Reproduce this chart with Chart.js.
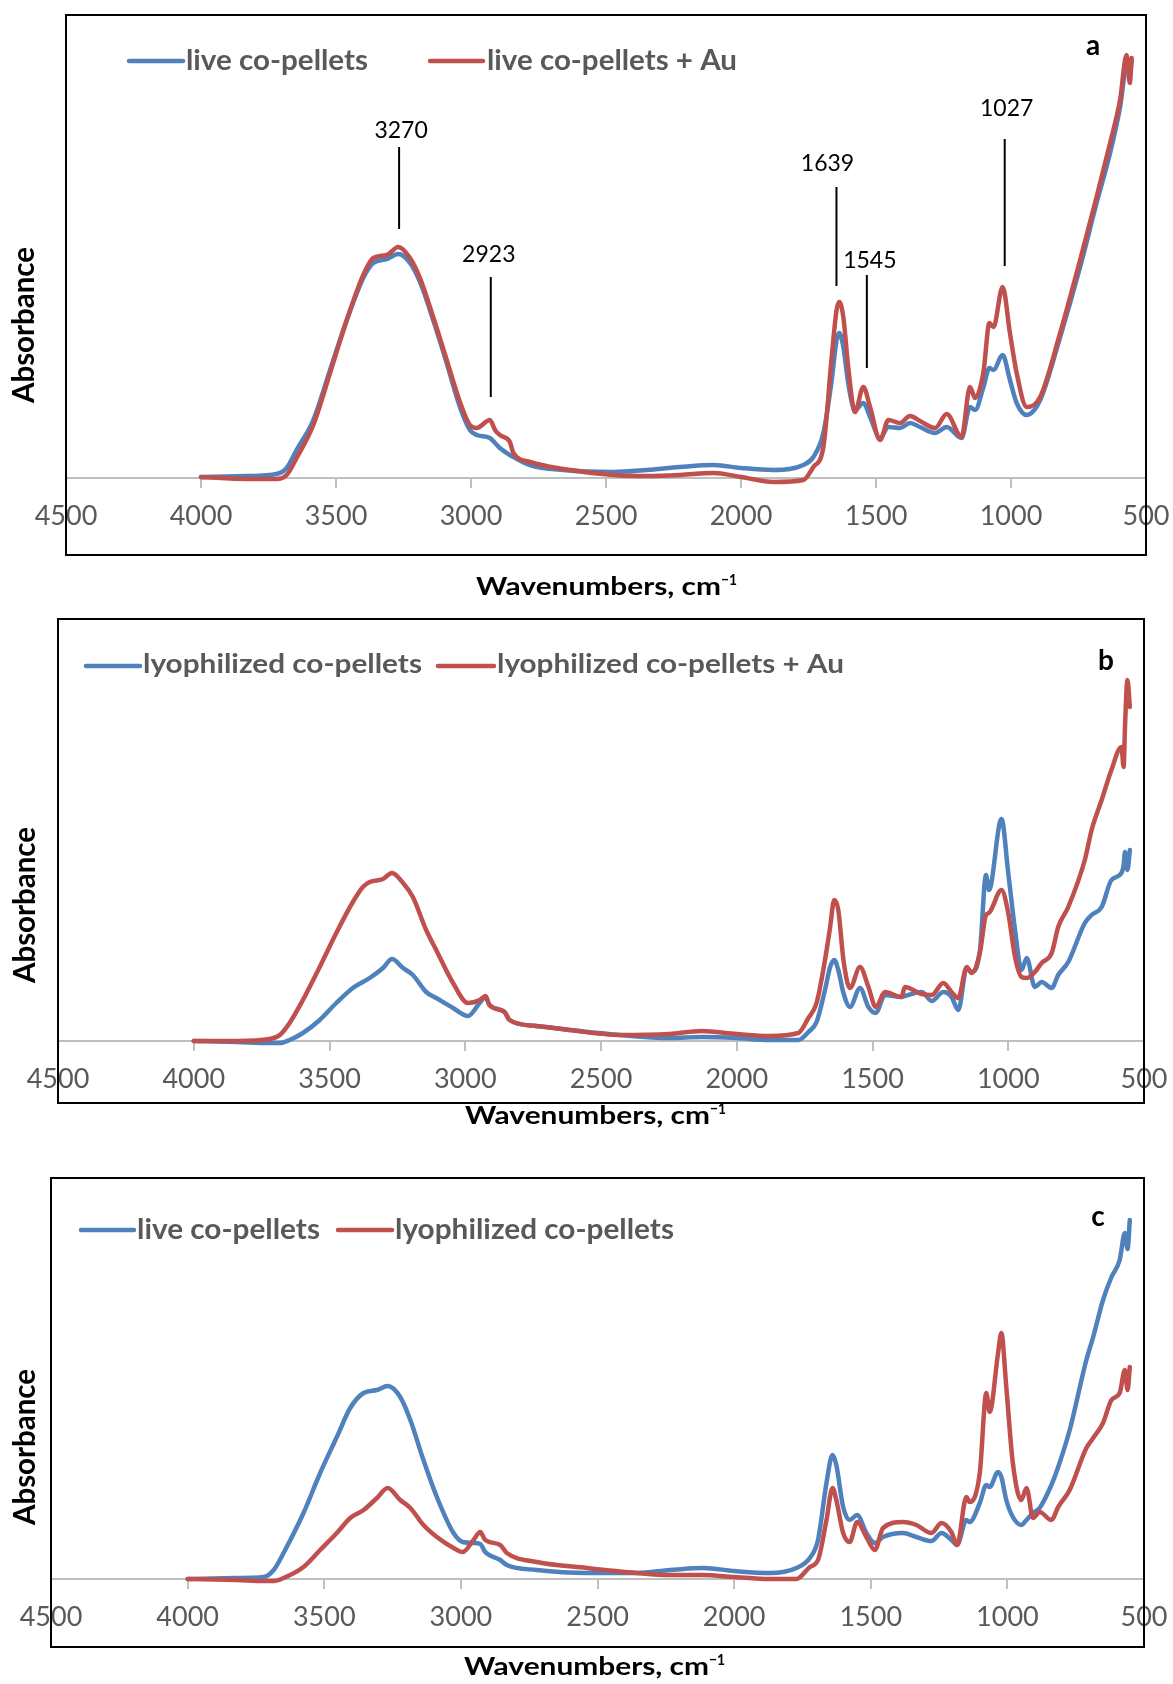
<!DOCTYPE html>
<html>
<head>
<meta charset="utf-8">
<script src="https://cdn.jsdelivr.net/npm/chart.js@4.4.0/dist/chart.umd.min.js"></script>
<style>
  body { margin: 0; background: #fff; }
  #wrap { position: relative; width: 1173px; height: 1684px; }
  canvas { position: absolute; left: 0; }
</style>
</head>
<body>
<div id="wrap">
  <canvas id="chartA" width="1173" height="605" style="top:0px"></canvas>
  <canvas id="chartB" width="1173" height="540" style="top:605px"></canvas>
  <canvas id="chartC" width="1173" height="539" style="top:1145px"></canvas>
</div>
<script>
// wavenumbers (cm-1) and absorbance (arbitrary units)

// panel a
const wnA = [4000, 3831, 3720, 3683, 3646, 3584, 3522, 3460, 3399, 3362, 3312, 3269, 3226, 3189, 3140, 3090, 3041, 3004, 2979, 2930,
  2911, 2893, 2856, 2843, 2782, 2658, 2473, 2349, 2226, 2102, 2000, 1880, 1769, 1732, 1695, 1664, 1646, 1636, 1621, 1603,
  1578, 1547, 1522, 1485, 1454, 1411, 1374, 1337, 1281, 1238, 1183, 1152, 1133, 1102, 1080, 1065, 1031, 1004, 979, 942,
  892, 818, 744, 683, 633, 596, 572, 560, 553];
const liveA = [1, 2, 4, 10, 28, 58, 108, 158, 200, 215, 219, 224, 215, 196, 158, 115, 71, 48, 43, 40,
  35, 30, 23, 21, 13, 8, 6, 8, 11, 13, 10, 8, 13, 21, 45, 98, 138, 145, 131, 95,
  68, 75, 61, 40, 51, 50, 55, 51, 45, 51, 40, 71, 68, 91, 110, 108, 123, 98, 75, 63,
  78, 141, 211, 275, 325, 371, 411, 405, 418];
const liveAuA = [1, -1, -1, 3, 20, 53, 105, 158, 203, 220, 223, 231, 220, 200, 161, 118, 76, 53, 50, 58,
  48, 43, 36, 25, 16, 9, 3, 2, 3, 5, 1, -4, -2, 11, 31, 121, 168, 176, 161, 111,
  66, 91, 71, 38, 58, 55, 62, 57, 50, 64, 41, 91, 80, 106, 155, 151, 191, 145, 105, 71,
  81, 145, 218, 281, 335, 378, 423, 395, 420];

// panel b
const wnB = [4000, 3843, 3720, 3683, 3647, 3598, 3536, 3475, 3414, 3377, 3352, 3303, 3270, 3229, 3193, 3144, 3107, 3045, 2990, 2947,
  2925, 2911, 2855, 2837, 2739, 2616, 2432, 2248, 2129, 2000, 1883, 1773, 1736, 1706, 1675, 1656, 1641, 1626, 1607, 1583,
  1546, 1515, 1488, 1454, 1393, 1381, 1319, 1282, 1239, 1209, 1184, 1153, 1135, 1104, 1082, 1071, 1025, 1000, 975, 951,
  932, 902, 877, 840, 816, 779, 718, 693, 656, 620, 583, 575, 570, 561, 552];
const lyoB = [0, -1, -2, -2, 1, 8, 21, 38, 53, 59, 63, 73, 82, 73, 66, 49, 43, 33, 25, 38,
  44, 36, 29, 21, 15, 11, 6, 3, 4, 3, 1, 1, 9, 19, 51, 74, 81, 71, 48, 34,
  53, 34, 28, 46, 44, 45, 49, 40, 49, 44, 31, 73, 69, 91, 166, 151, 222, 168, 111, 71,
  83, 54, 59, 53, 66, 79, 118, 126, 134, 161, 168, 176, 189, 171, 191];
const lyoAuB = [0, 0, 2, 6, 18, 41, 74, 108, 139, 154, 159, 162, 168, 158, 144, 111, 91, 58, 38, 41,
  45, 36, 29, 21, 15, 11, 6, 7, 10, 7, 5, 8, 23, 38, 81, 114, 141, 131, 81, 53,
  74, 54, 34, 49, 44, 54, 47, 46, 58, 49, 43, 74, 68, 89, 126, 128, 151, 128, 84, 64,
  63, 69, 78, 88, 114, 134, 181, 211, 241, 271, 294, 274, 314, 361, 334];

// panel c
const wnC = [4000, 3820, 3722, 3685, 3649, 3576, 3515, 3454, 3405, 3356, 3307, 3268, 3222, 3185, 3137, 3088, 3027, 2993, 2954, 2929,
  2911, 2856, 2832, 2722, 2539, 2356, 2234, 2113, 2000, 1870, 1772, 1723, 1693, 1662, 1640, 1626, 1601, 1577, 1550, 1516,
  1485, 1455, 1382, 1333, 1278, 1241, 1205, 1184, 1150, 1138, 1101, 1077, 1065, 1034, 1022, 1004, 980, 949, 930, 906,
  882, 839, 814, 772, 711, 686, 650, 619, 589, 570, 560, 552];
const liveC = [0, 1, 2, 9, 26, 66, 106, 142, 171, 186, 189, 193, 182, 159, 119, 82, 46, 37, 36, 35,
  27, 19, 14, 9, 6, 6, 9, 11, 8, 6, 11, 21, 39, 96, 124, 114, 72, 59, 64, 46,
  36, 42, 46, 42, 38, 46, 39, 34, 59, 57, 76, 94, 92, 107, 102, 79, 62, 54, 59, 66,
  71, 94, 112, 149, 219, 242, 279, 302, 319, 346, 330, 359];
const lyoC = [0, -1, -2, -2, 1, 12, 29, 46, 61, 69, 81, 91, 79, 71, 54, 42, 31, 27, 39, 47,
  39, 34, 26, 17, 11, 6, 4, 4, 2, 0, 0, 12, 19, 59, 91, 79, 46, 37, 57, 42,
  29, 51, 57, 54, 46, 56, 47, 34, 82, 77, 106, 186, 167, 226, 246, 192, 116, 79, 91, 61,
  67, 59, 72, 89, 131, 141, 156, 179, 186, 209, 189, 212];

// peak labels of panel a
const peaksA = [3270, 2923, 1639, 1545, 1027];

const xTicks = [4500, 4000, 3500, 3000, 2500, 2000, 1500, 1000, 500];

const BLUE = '#4f81bd', RED = '#c0504d';
const FONT = 'Lato, "Open Sans", sans-serif';

function fitText(ctx, txt, x, base, w) {
  const m = ctx.measureText(txt).width;
  ctx.save();
  ctx.translate(x, base);
  ctx.scale(w / m, 1);
  ctx.textAlign = 'left';
  ctx.textBaseline = 'alphabetic';
  ctx.fillText(txt, 0, 0);
  ctx.restore();
}

const decor = {
  id: 'decor',
  afterDraw(chart, args, o) {
    const ctx = chart.ctx, area = chart.chartArea;
    const xs = chart.scales.x, ys = chart.scales.y;
    ctx.save();
    // outer frame
    ctx.strokeStyle = '#000';
    ctx.lineWidth = 2;
    ctx.strokeRect(area.left, o.frame[0], area.right - area.left, o.frame[1] - o.frame[0]);

    // legend
    const lg = o.legend;
    ctx.lineCap = 'round';
    ctx.lineWidth = 4.5;
    ctx.font = 'bold ' + lg.size + 'px ' + FONT;
    ctx.fillStyle = '#595959';
    lg.items.forEach((it, i) => {
      ctx.strokeStyle = [BLUE, RED][i];
      ctx.beginPath();
      ctx.moveTo(it[0], lg.lineY);
      ctx.lineTo(it[1], lg.lineY);
      ctx.stroke();
      fitText(ctx, o.names[i], it[2], lg.base, it[3]);
    });

    // panel letter
    ctx.fillStyle = '#000';
    ctx.font = 'bold 28px ' + FONT;
    ctx.textAlign = 'center';
    ctx.textBaseline = 'alphabetic';
    ctx.fillText(o.letter[0], o.letter[1], o.letter[2]);

    // x title
    const t = o.xTitle;
    ctx.font = 'bold 25px ' + FONT;
    fitText(ctx, 'Wavenumbers, cm', t[0], t[1], 245);
    ctx.font = 'bold 16px ' + FONT;
    fitText(ctx, '\u22121', t[0] + 245, t[1] - 10, 16);

    // y title
    ctx.font = 'bold 30px ' + FONT;
    ctx.save();
    ctx.translate(o.yTitle[0], o.yTitle[1]);
    ctx.rotate(-Math.PI / 2);
    const m = ctx.measureText('Absorbance').width;
    ctx.scale(156 / m, 1);
    ctx.textAlign = 'center';
    ctx.fillText('Absorbance', 0, 0);
    ctx.restore();

    // peak annotations
    if (o.peaks) {
      ctx.font = '23px ' + FONT;
      ctx.strokeStyle = '#000';
      ctx.lineWidth = 2;
      ctx.lineCap = 'butt';
      o.peaks.forEach(p => {
        const x = xs.getPixelForValue(p.wn);
        ctx.beginPath();
        ctx.moveTo(x + p.lx, ys.getPixelForValue(p.top));
        ctx.lineTo(x + p.lx, ys.getPixelForValue(p.bottom));
        ctx.stroke();
        ctx.textAlign = 'center';
        ctx.fillText(String(p.wn), x + p.tx, ys.getPixelForValue(p.text));
      });
    }
    ctx.restore();
  }
};

function makeChart(id, wn, blue, red, cfg) {
  const pts = arr => wn.map((w, i) => ({ x: w, y: arr[i] }));
  return new Chart(document.getElementById(id), {
    type: 'line',
    data: {
      datasets: [
        { label: cfg.names[0], data: pts(blue), borderColor: BLUE, order: 1 },
        { label: cfg.names[1], data: pts(red), borderColor: RED, order: 0 }
      ]
    },
    options: {
      responsive: false,
      animation: false,
      events: [],
      layout: { padding: cfg.pad },
      elements: {
        point: { radius: 0 },
        line: {
          borderWidth: 4.5,
          cubicInterpolationMode: 'monotone',
          borderJoinStyle: 'round',
          borderCapStyle: 'round',
          fill: false
        }
      },
      datasets: { line: { clip: false } },
      scales: {
        x: {
          type: 'linear',
          reverse: true,
          min: 500,
          max: 4500,
          afterBuildTicks: s => { s.ticks = xTicks.map(v => ({ value: v })); },
          afterFit: s => { s.height = 60; s.paddingLeft = 0; s.paddingRight = 0; },
          border: { display: true, color: '#bfbfbf', width: 2 },
          grid: { drawOnChartArea: false, drawTicks: true, tickLength: 10, color: '#bfbfbf', lineWidth: 2 },
          ticks: {
            color: '#595959',
            padding: 12,
            maxRotation: 0,
            autoSkip: false,
            font: { family: FONT, size: 27 },
            callback: v => String(v)
          }
        },
        y: { display: false, min: 0, max: cfg.yMax }
      },
      plugins: {
        legend: { display: false },
        tooltip: { enabled: false },
        decor: cfg
      }
    },
    plugins: [decor]
  });
}

makeChart('chartA', wnA, liveA, liveAuA, {
  names: ['live co-pellets', 'live co-pellets + Au'],
  yMax: 450,
  pad: { left: 66, right: 27, top: 28, bottom: 67 },
  frame: [15, 555],
  legend: { lineY: 61, base: 70, size: 29, items: [[129, 183, 186, 182], [430, 483, 487, 250]] },
  letter: ['a', 1093, 55],
  xTitle: [476, 595],
  yTitle: [34, 325],
  peaks: [
    { wn: peaksA[0], top: 331, bottom: 249, text: 340, lx: 1, tx: 3 },
    { wn: peaksA[1], top: 201, bottom: 81, text: 216, lx: -1, tx: -3 },
    { wn: peaksA[2], top: 291, bottom: 192, text: 307, lx: -2, tx: -11 },
    { wn: peaksA[3], top: 203, bottom: 110, text: 210, lx: 3, tx: 6 },
    { wn: peaksA[4], top: 339, bottom: 212, text: 362, lx: 1, tx: 3 }
  ]
});

makeChart('chartB', wnB, lyoB, lyoAuB, {
  names: ['lyophilized co-pellets', 'lyophilized co-pellets + Au'],
  yMax: 380,
  pad: { left: 58, right: 29, top: 56, bottom: 44 },
  frame: [14, 498],
  legend: { lineY: 61, base: 68, size: 26, items: [[86, 140, 143, 279], [438, 494, 497, 347]] },
  letter: ['b', 1106, 65],
  xTitle: [465, 519],
  yTitle: [35, 300]
});

makeChart('chartC', wnC, liveC, lyoC, {
  names: ['live co-pellets', 'lyophilized co-pellets'],
  yMax: 380,
  pad: { left: 51, right: 29, top: 54, bottom: 45 },
  frame: [33, 502],
  legend: { lineY: 85, base: 94, size: 28, items: [[81, 134, 137, 183], [338, 392, 395, 279]] },
  letter: ['c', 1098, 81],
  xTitle: [464, 530],
  yTitle: [35, 302]
});
</script>
</body>
</html>
